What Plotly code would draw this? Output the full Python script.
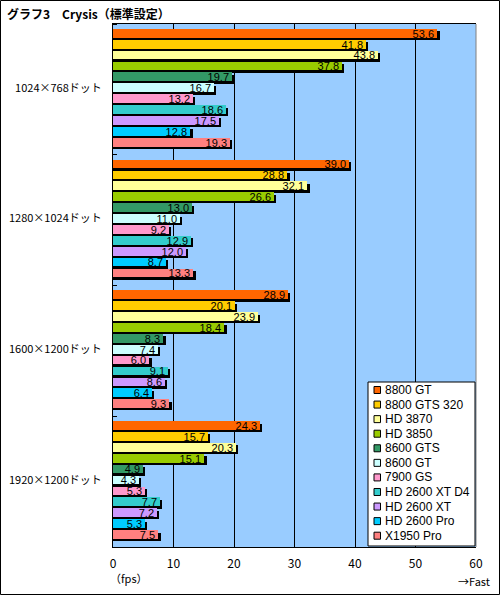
import plotly.graph_objects as go

groups = ["1024×768ドット", "1280×1024ドット", "1600×1200ドット", "1920×1200ドット"]
cards = ["8800 GT", "8800 GTS 320", "HD 3870", "HD 3850", "8600 GTS", "8600 GT",
         "7900 GS", "HD 2600 XT D4", "HD 2600 XT", "HD 2600 Pro", "X1950 Pro"]
colors = ["#FF6600", "#FFCC00", "#FFFF99", "#99CC00", "#339966", "#CCFFFF",
          "#FF99CC", "#33CCCC", "#CC99FF", "#00CCFF", "#FF8080"]

gt8800 = [53.6, 39.0, 28.9, 24.3]
gts320 = [41.8, 28.8, 20.1, 15.7]
hd3870 = [43.8, 32.1, 23.9, 20.3]
hd3850 = [37.8, 26.6, 18.4, 15.1]
gts8600 = [19.7, 13.0, 8.3, 4.9]
gt8600 = [16.7, 11.0, 7.4, 4.3]
gs7900 = [13.2, 9.2, 6.0, 5.3]
xtd4_2600 = [18.6, 12.9, 9.1, 7.7]
xt2600 = [17.5, 12.0, 8.6, 7.2]
pro2600 = [12.8, 8.7, 6.4, 5.3]
pro1950 = [19.3, 13.3, 9.3, 7.5]
series = [gt8800, gts320, hd3870, hd3850, gts8600, gt8600,
          gs7900, xtd4_2600, xt2600, pro2600, pro1950]

# page geometry (px)
L, T, W, H = 113, 24, 363, 523
def px_x(p):
    return (p - L) / W
def px_y(p):
    return (T + H - p) / H

SLOT = 12
font = "Noto Sans CJK JP, Liberation Sans, sans-serif"
numfont = "Liberation Sans, Arial, sans-serif"

def ypos(g, i):
    return g * SLOT + i + 0.85

fig = go.Figure()

# drop shadows
sx, sy = [], []
for i, vals in enumerate(series):
    for g, v in enumerate(vals):
        sx.append(v + 0.4)
        sy.append(ypos(g, i) + 0.22)
fig.add_trace(go.Bar(x=sx, y=sy, orientation="h", width=0.8,
                     marker=dict(color="black", line=dict(width=0)),
                     showlegend=False, hoverinfo="skip"))

for i, vals in enumerate(series):
    fig.add_trace(go.Bar(
        x=vals, y=[ypos(g, i) for g in range(len(groups))],
        orientation="h", width=0.8, name=cards[i],
        marker=dict(color=colors[i], line=dict(width=0)),
        text=[f"{v:.1f}" for v in vals], textposition="inside",
        insidetextanchor="end", textangle=0, constraintext="none",
        textfont=dict(size=11, color="black", family=numfont),
        showlegend=False,
    ))

shapes = []
annotations = []

# outer border
shapes.append(dict(type="rect", xref="paper", yref="paper",
                   x0=px_x(0.5), x1=px_x(499.5), y0=px_y(594.5), y1=px_y(0.5),
                   line=dict(color="black", width=1)))
# right plot edge
shapes.append(dict(type="line", xref="paper", yref="paper",
                   x0=1, x1=1, y0=0, y1=1, line=dict(color="#808080", width=1)))

# manual legend
lx0, lx1, ly0, ly1 = 368, 475, 382, 546
shapes.append(dict(type="rect", xref="paper", yref="paper",
                   x0=px_x(lx0), x1=px_x(lx1), y0=px_y(ly1), y1=px_y(ly0),
                   fillcolor="white", line=dict(color="black", width=1)))
for i, name in enumerate(cards):
    cy = 390 + i * 14.57
    shapes.append(dict(type="rect", xref="paper", yref="paper",
                       x0=px_x(374), x1=px_x(380.5), y0=px_y(cy + 3.5), y1=px_y(cy - 3.5),
                       fillcolor=colors[i], line=dict(color="black", width=1)))
    annotations.append(dict(text=name, xref="paper", yref="paper",
                            x=px_x(383), y=px_y(cy), xanchor="left", yanchor="middle",
                            showarrow=False, font=dict(size=12, color="black", family=numfont)))

annotations += [
    dict(text="<b>グラフ3　Crysis（標準設定）</b>", xref="paper", yref="paper",
         x=px_x(5), y=px_y(14), xanchor="left", yanchor="middle", showarrow=False,
         font=dict(size=12, color="black", family=font)),
    dict(text="（fps）", xref="paper", yref="paper",
         x=px_x(108), y=px_y(578), xanchor="left", yanchor="middle", showarrow=False,
         font=dict(size=11, color="black", family=font)),
    dict(text="→Fast", xref="paper", yref="paper",
         x=px_x(492), y=px_y(581), xanchor="right", yanchor="middle", showarrow=False,
         font=dict(size=11, color="black", family=font)),
]

fig.update_layout(
    width=500, height=595,
    margin=dict(l=L, r=500 - L - W, t=T, b=595 - T - H, autoexpand=False),
    paper_bgcolor="white", plot_bgcolor="#99CCFF",
    barmode="overlay", bargap=0,
    font=dict(family=font, size=11, color="black"),
    xaxis=dict(range=[0, 60], dtick=10, tick0=0, showgrid=True, gridcolor="black",
               gridwidth=1, showline=True, linecolor="black", mirror=True,
               ticks="", zeroline=False, ticklabelstandoff=6, automargin=False,
               tickfont=dict(size=12, family=font)),
    yaxis=dict(range=[len(groups) * SLOT, 0], tickvals=[g * SLOT + 5.85 for g in range(len(groups))],
               ticktext=groups, showgrid=False, zeroline=False, showline=True,
               linecolor="black", ticks="", ticklabelstandoff=8, automargin=False,
               tickfont=dict(size=11, family=font),
               minor=dict(tick0=0, dtick=SLOT, ticks="inside", ticklen=4,
                          tickcolor="black", showgrid=False)),
    shapes=shapes, annotations=annotations,
)

# drop the browser's default page margin so the figure sits at the window corner
fig.write_html("out.html", config={"displayModeBar": False},
               post_script="document.body.style.margin='0';")
